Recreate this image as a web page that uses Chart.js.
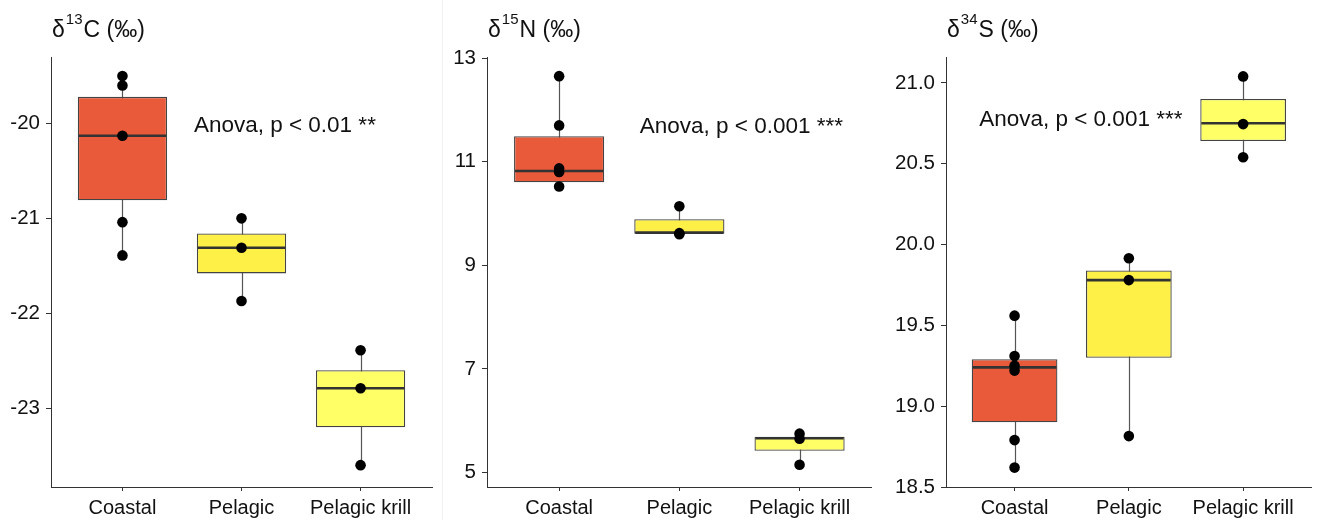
<!DOCTYPE html>
<html>
<head>
<meta charset="utf-8">
<script src="https://cdn.jsdelivr.net/npm/chart.js@4.4.1/dist/chart.umd.min.js"></script>
<style>
  html, body { margin: 0; padding: 0; background: #fff; }
  #wrap { position: relative; width: 1317px; height: 520px; overflow: hidden; }
  .panel { position: absolute; top: 0; height: 520px; }
  .panel canvas { display: block; }
  #sep { position: absolute; left: 442px; top: 0; width: 1px; height: 520px; background: #f1f1f1; }
</style>
</head>
<body>
<div id="wrap">
  <div class="panel" style="left:0;width:442px"><canvas id="c13" width="442" height="520"></canvas></div>
  <div id="sep"></div>
  <div class="panel" style="left:443px;width:434px"><canvas id="n15" width="434" height="520"></canvas></div>
  <div class="panel" style="left:877px;width:440px"><canvas id="s34" width="440" height="520"></canvas></div>
</div>
<script>
// groups on the x axis
const categories = ['Coastal', 'Pelagic', 'Pelagic krill'];
const boxColors = ['#e85a3a', '#fff047', '#ffff66'];

// δ13C panel
const c13Points = [
  [-19.50, -19.60, -20.13, -21.04, -21.39],
  [-21.00, -21.31, -21.87],
  [-22.39, -22.79, -23.60]
];
const c13Q1     = [-20.81, -21.58, -23.20];
const c13Median = [-20.13, -21.31, -22.79];
const c13Q3     = [-19.72, -21.16, -22.60];
const c13Ticks  = [-23, -22, -21, -20];

// δ15N panel
const n15Points = [
  [12.65, 11.70, 10.87, 10.80, 10.52],
  [10.14, 9.62, 9.60],
  [5.75, 5.65, 5.15]
];
const n15Q1     = [10.60, 9.61, 5.42];
const n15Median = [10.82, 9.63, 5.66];
const n15Q3     = [11.49, 9.89, 5.69];
const n15Ticks  = [5, 7, 9, 11, 13];

// δ34S panel
const s34Points = [
  [19.56, 19.31, 19.25, 19.22, 18.79, 18.62],
  [19.915, 19.78, 18.815],
  [21.04, 20.745, 20.54]
];
const s34Q1     = [18.90, 19.30, 20.64];
const s34Median = [19.24, 19.78, 20.75];
const s34Q3     = [19.29, 19.84, 20.90];
const s34Ticks  = [18.5, 19.0, 19.5, 20.0, 20.5, 21.0];

const FONT = '"Liberation Sans", Arial, Helvetica, sans-serif';
Chart.defaults.font.family = FONT;
Chart.defaults.color = '#111';

// whiskers, medians, panel title and the Anova note
const boxParts = {
  id: 'boxParts',
  beforeDatasetsDraw(chart, args, opts) {
    const { ctx, scales: { x, y } } = chart;
    ctx.save();
    ctx.strokeStyle = '#555';
    ctx.lineWidth = 1.2;
    opts.points.forEach((pts, i) => {
      const px = Math.round(x.getPixelForValue(i + 1)) + 0.5;
      ctx.beginPath();
      ctx.moveTo(px, y.getPixelForValue(Math.max(...pts)));
      ctx.lineTo(px, y.getPixelForValue(Math.min(...pts)));
      ctx.stroke();
    });
    ctx.restore();
  },
  afterDatasetDraw(chart, args, opts) {
    if (args.index !== 0) return;
    const { ctx, scales: { y } } = chart;
    const meta = chart.getDatasetMeta(0);
    ctx.save();
    ctx.strokeStyle = '#333';
    ctx.lineWidth = 2.6;
    meta.data.forEach((bar, i) => {
      const half = bar.width / 2 - 1;
      const py = y.getPixelForValue(opts.median[i]);
      ctx.beginPath();
      ctx.moveTo(bar.x - half, py);
      ctx.lineTo(bar.x + half, py);
      ctx.stroke();
    });
    ctx.restore();
  },
  afterDraw(chart, args, opts) {
    const { ctx, chartArea, scales: { x, y } } = chart;
    ctx.save();
    ctx.fillStyle = '#111';
    ctx.textBaseline = 'alphabetic';
    ctx.textAlign = 'left';
    // title with superscript isotope mass
    let tx = chartArea.left + 1;
    const [pre, sup, post] = opts.title;
    ctx.font = '23px ' + FONT;
    ctx.fillText(pre, tx, 37);
    tx += ctx.measureText(pre).width + 1;
    ctx.font = '15px ' + FONT;
    ctx.fillText(sup, tx, 24);
    tx += ctx.measureText(sup).width + 1;
    ctx.font = '23px ' + FONT;
    ctx.fillText(post, tx, 37);
    // test note
    ctx.font = '22.5px ' + FONT;
    ctx.textBaseline = 'middle';
    ctx.fillText(opts.note.text, x.getPixelForValue(opts.note.x), y.getPixelForValue(opts.note.y));
    ctx.restore();
  }
};

function makePanel(id, p) {
  const boxData = p.q1.map((v, i) => ({ x: i + 1, y: [v, p.q3[i]] }));
  const pointData = p.points.flatMap((pts, i) => pts.map(v => ({ x: i + 1, y: v })));

  return new Chart(document.getElementById(id), {
    type: 'bar',
    data: {
      datasets: [{
        type: 'bar',
        data: boxData,
        backgroundColor: boxColors,
        borderColor: '#444',
        borderWidth: 1.3,
        borderSkipped: false,
        barPercentage: 0.75,
        categoryPercentage: 1,
        grouped: false,
        order: 2
      }, {
        type: 'scatter',
        data: pointData,
        backgroundColor: '#000',
        borderWidth: 0,
        pointRadius: 5.3,
        order: 1
      }]
    },
    options: {
      responsive: false,
      animation: false,
      layout: { padding: { top: 57, right: p.padRight, bottom: 0, left: 0 } },
      plugins: {
        legend: { display: false },
        tooltip: { enabled: false },
        boxParts: { points: p.points, median: p.median, title: p.title, note: p.note }
      },
      scales: {
        x: {
          type: 'linear',
          min: 0.4,
          max: 3.6,
          offset: false,
          afterFit: s => { s.height = 33; },
          afterBuildTicks: s => { s.ticks = categories.map((c, i) => ({ value: i + 1 })); },
          ticks: {
            callback: v => categories[v - 1],
            font: { size: 20 },
            color: '#111',
            padding: 5,
            autoSkip: false,
            maxRotation: 0
          },
          grid: { drawOnChartArea: false, offset: false, tickLength: 4, color: '#333', lineWidth: 1 },
          border: { display: true, color: '#333', width: 1 }
        },
        y: {
          type: 'linear',
          min: p.yMin,
          max: p.yMax,
          afterFit: s => { s.width = p.axisWidth; },
          afterBuildTicks: s => { s.ticks = p.ticks.map(v => ({ value: v })); },
          ticks: {
            callback: v => v.toFixed(p.decimals),
            font: { size: 20.5 },
            color: '#111',
            padding: 6
          },
          grid: { drawOnChartArea: false, tickLength: 5, color: '#333', lineWidth: 1 },
          border: { display: true, color: '#333', width: 1 }
        }
      }
    },
    plugins: [boxParts]
  });
}

makePanel('c13', {
  points: c13Points, q1: c13Q1, median: c13Median, q3: c13Q3, ticks: c13Ticks,
  yMin: -23.83, yMax: -19.30, decimals: 0, axisWidth: 51, padRight: 10,
  title: ['δ', '13', 'C (‰)'],
  note: { text: 'Anova, p < 0.01 **', x: 1.6, y: -20.03 }
});

makePanel('n15', {
  points: n15Points, q1: n15Q1, median: n15Median, q3: n15Q3, ticks: n15Ticks,
  yMin: 4.72, yMax: 13.02, decimals: 0, axisWidth: 44, padRight: 3,
  title: ['δ', '15', 'N (‰)'],
  note: { text: 'Anova, p < 0.001 ***', x: 1.67, y: 11.68 }
});

makePanel('s34', {
  points: s34Points, q1: s34Q1, median: s34Median, q3: s34Q3, ticks: s34Ticks,
  yMin: 18.5, yMax: 21.16, decimals: 1, axisWidth: 69, padRight: 0,
  title: ['δ', '34', 'S (‰)'],
  note: { text: 'Anova, p < 0.001 ***', x: 0.69, y: 20.77 }
});
</script>
</body>
</html>
